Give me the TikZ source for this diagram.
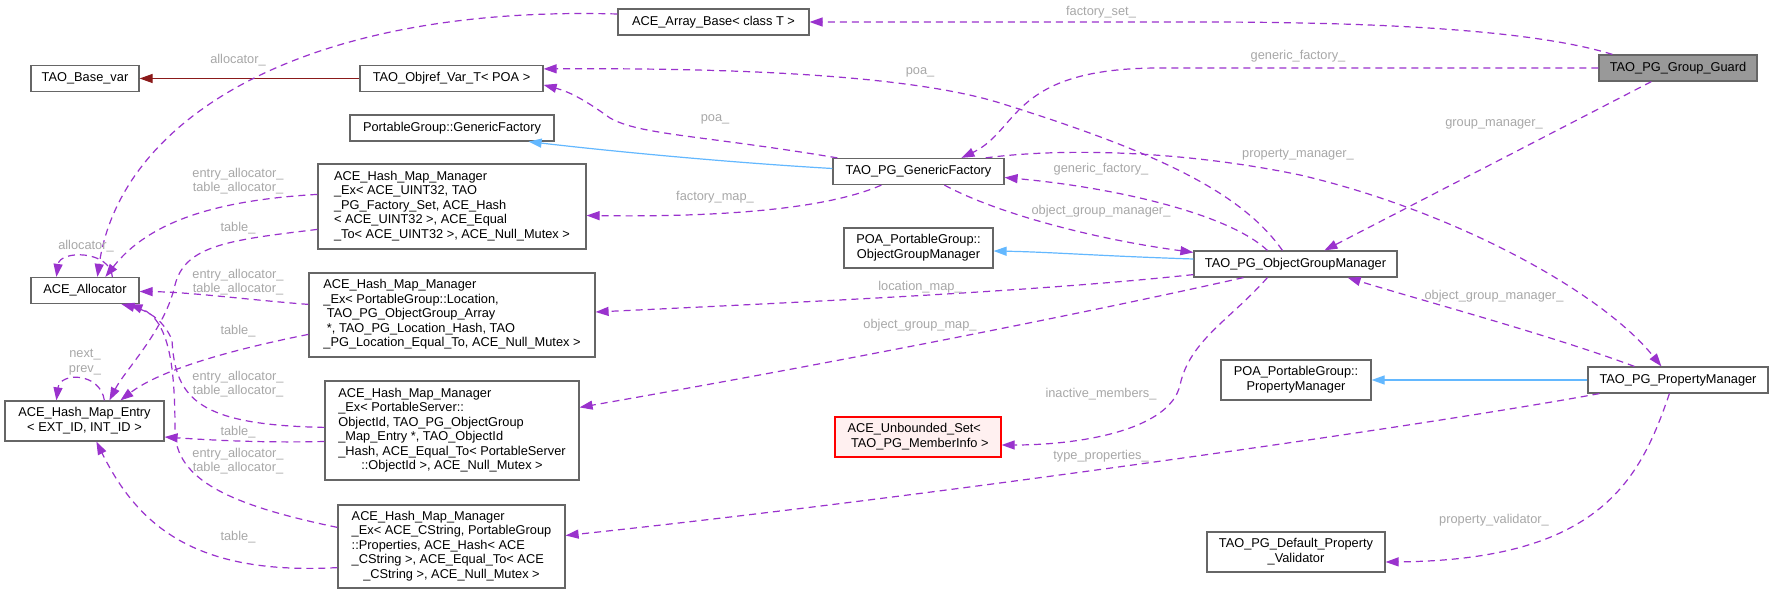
\documentclass[tikz,border=0pt]{standalone}
\usepackage{fontspec}
\setmainfont{Liberation Sans}
\usetikzlibrary{arrows.meta,calc}
\definecolor{cedge}{HTML}{9A32CD}
\definecolor{cinh}{HTML}{63B8FF}
\definecolor{cred}{HTML}{8B1A1A}
\definecolor{cborder}{HTML}{666666}
\definecolor{clbl}{HTML}{A8A8A8}
\definecolor{cgg}{HTML}{999999}
\definecolor{cunbfill}{HTML}{FFF0F0}
\newcommand{\nfont}{\fontsize{12.8bp}{14.5bp}\selectfont}
\newcommand{\mlines}[2]{\begin{tabular}{@{}l@{}}#1\\\multicolumn{1}{@{}c@{}}{#2}\end{tabular}}
\tikzset{
  cls/.style={draw=cborder, line width=1.2bp, fill=white, inner sep=0pt, font=\nfont, text=black},
  lbl/.style={text=clbl, font=\nfont, inner sep=0pt, align=center},
  mem/.style={draw=cedge, line width=1.2bp, dash pattern=on 7bp off 5bp, -{Triangle[length=13bp,width=9bp]}},
  inh/.style={draw=cinh, line width=1.2bp, -{Triangle[length=13bp,width=9bp]}},
  inhred/.style={draw=cred, line width=1.2bp, -{Triangle[length=13bp,width=9bp]}},
}
\begin{document}
\begin{tikzpicture}[x=1bp,y=-1bp]
\fill[white] (0,0) rectangle (1773,594);
\useasboundingbox (0,0) rectangle (1773,594);

% ---- nodes ----
\node[cls, fill=cgg, minimum width=158bp, minimum height=26bp] (gg) at (1678,68) {TAO\_PG\_Group\_Guard};
\node[cls, minimum width=191bp, minimum height=26bp] (arr) at (713.5,22) {ACE\_Array\_Base< class T >};
\node[cls, minimum width=108bp, minimum height=26bp] (basevar) at (85,78.5) {TAO\_Base\_var};
\node[cls, minimum width=183bp, minimum height=26bp] (objref) at (451.5,78.5) {TAO\_Objref\_Var\_T< POA >};
\node[cls, minimum width=204bp, minimum height=26bp] (pggf) at (452,128) {PortableGroup::GenericFactory};
\node[cls, minimum width=268bp, minimum height=85bp] (hmm1) at (452,206.5) {\mlines{ACE\_Hash\_Map\_Manager\\\_Ex< ACE\_UINT32, TAO\\\_PG\_Factory\_Set, ACE\_Hash\\< ACE\_UINT32 >, ACE\_Equal}{\_To< ACE\_UINT32 >, ACE\_Null\_Mutex >}};
\node[cls, minimum width=108bp, minimum height=26bp] (alloc) at (85,290.5) {ACE\_Allocator};
\node[cls, minimum width=286bp, minimum height=84bp] (hmm2) at (452,315) {\mlines{ACE\_Hash\_Map\_Manager\\\_Ex< PortableGroup::Location,\\\ TAO\_PG\_ObjectGroup\_Array\\\ *, TAO\_PG\_Location\_Hash, TAO}{\_PG\_Location\_Equal\_To, ACE\_Null\_Mutex >}};
\node[cls, minimum width=159bp, minimum height=40bp] (entry) at (84.5,421) {\mlines{ACE\_Hash\_Map\_Entry}{< EXT\_ID, INT\_ID >}};
\node[cls, minimum width=254bp, minimum height=99bp] (hmm3) at (452,430.5) {\mlines{ACE\_Hash\_Map\_Manager\\\_Ex< PortableServer::\\ObjectId, TAO\_PG\_ObjectGroup\\\_Map\_Entry *, TAO\_ObjectId\\\_Hash, ACE\_Equal\_To< PortableServer}{::ObjectId >, ACE\_Null\_Mutex >}};
\node[cls, minimum width=227bp, minimum height=83bp] (hmm4) at (451.5,546.5) {\mlines{ACE\_Hash\_Map\_Manager\\\_Ex< ACE\_CString, PortableGroup\\::Properties, ACE\_Hash< ACE\\\_CString >, ACE\_Equal\_To< ACE}{\_CString >, ACE\_Null\_Mutex >}};
\node[cls, minimum width=171bp, minimum height=26bp] (gf) at (918.5,171.5) {TAO\_PG\_GenericFactory};
\node[cls, minimum width=149bp, minimum height=40bp] (poaogm) at (918.5,248) {\mlines{POA\_PortableGroup::}{ObjectGroupManager}};
\node[cls, draw=red, fill=cunbfill, minimum width=166bp, minimum height=40bp] (unb) at (918,437) {\mlines{ACE\_Unbounded\_Set<}{\ TAO\_PG\_MemberInfo >}};
\node[cls, minimum width=203bp, minimum height=26bp] (ogm) at (1295.5,264) {TAO\_PG\_ObjectGroupManager};
\node[cls, minimum width=150bp, minimum height=40bp] (poapm) at (1296,380) {\mlines{POA\_PortableGroup::}{PropertyManager}};
\node[cls, minimum width=180bp, minimum height=26bp] (pm) at (1678,380) {TAO\_PG\_PropertyManager};
\node[cls, minimum width=178bp, minimum height=40bp] (val) at (1296,552) {\mlines{TAO\_PG\_Default\_Property}{\_Validator}};

% ---- inheritance ----
\draw[inhred] (objref.west) -- (basevar.east);
\draw[inh] ($(gf.west)+(0,-3)$) .. controls (720,162) and (600,150) .. ($(pggf.south east)+(-26,0)$);
\draw[inh] ($(ogm.west)+(0,-5)$) .. controls (1100,256) and (1050,252) .. ($(poaogm.east)+(0,3)$);
\draw[inh] (pm.west) -- (poapm.east);

% ---- members ----
\draw[mem] ($(gg.north west)+(14,0)$) .. controls (1540,32) and (1400,22) .. (1200,22) -- (arr.east);
\draw[mem] (gg.west) -- (1160,68) .. controls (1010,68) and (1020,130) .. ($(gf.north west)+(129,0)$);
\draw[mem] ($(gg.south west)+(53,0)$) -- ($(ogm.north west)+(131,0)$);
\draw[mem] ($(ogm.north west)+(89,0)$) .. controls (1240,190) and (1150,150) .. (1000,103) .. controls (900,72) and (700,68) .. ($(objref.north east)+(0,4)$);
\draw[mem] ($(gf.north west)+(5,0)$) .. controls (700,135) and (640,135) .. (610,118) .. controls (585,100) and (570,92) .. ($(objref.north east)+(0,20)$);
\draw[mem] ($(gf.south west)+(49,0)$) .. controls (820,212) and (700,217) .. ($(hmm1.east)+(0,9)$);
\draw[mem] ($(ogm.north west)+(74,0)$) .. controls (1230,215) and (1120,188) .. ($(gf.east)+(0,6)$);
\draw[mem] ($(gf.south west)+(112,0)$) .. controls (1000,215) and (1100,240) .. ($(ogm.north west)+(0,2)$);
\draw[mem] ($(gf.north east)+(-19,0)$) .. controls (1060,148) and (1180,150) .. (1300,175) .. controls (1450,210) and (1600,290) .. ($(pm.north west)+(74,0)$);
\draw[mem] ($(ogm.south west)+(0,-3)$) .. controls (1050,290) and (850,300) .. ($(hmm2.east)+(0,-3)$);
\draw[mem] ($(ogm.south west)+(50,0)$) .. controls (1100,310) and (850,360) .. ($(hmm3.north east)+(0,27)$);
\draw[mem] ($(ogm.south west)+(74,0)$) .. controls (1230,320) and (1190,340) .. (1180,385) .. controls (1170,430) and (1080,445) .. ($(unb.east)+(0,8)$);
\draw[mem] ($(pm.north west)+(47,0)$) .. controls (1550,335) and (1420,300) .. ($(ogm.south east)+(-50,0)$);
\draw[mem] ($(pm.south west)+(12,0)$) .. controls (1400,430) and (900,500) .. ($(hmm4.east)+(0,-11)$);
\draw[mem] ($(pm.south west)+(82,0)$) .. controls (1640,480) and (1600,560) .. ($(val.east)+(0,10)$);

% left side
\draw[mem] ($(arr.west)+(0,-8)$) .. controls (300,5) and (120,120) .. ($(alloc.north west)+(67,0)$);
\draw[mem] ($(alloc.north west)+(82,0)$) .. controls (110,250) and (60,250) .. ($(alloc.north west)+(26,0)$);
\draw[mem] ($(hmm1.north west)+(0,31)$) .. controls (220,200) and (150,220) .. ($(alloc.north west)+(75,0)$);
\draw[mem] ($(hmm1.north west)+(0,66)$) .. controls (230,240) and (185,245) .. (175,285) .. controls (165,330) and (125,370) .. ($(entry.north west)+(105,0)$);
\draw[mem] ($(hmm2.north west)+(0,32)$) .. controls (250,300) and (190,292) .. ($(alloc.east)+(0,1)$);
\draw[mem] ($(hmm2.north west)+(0,62)$) .. controls (230,350) and (160,370) .. ($(entry.north west)+(116,0)$);
\draw[mem] ($(hmm3.north west)+(0,47)$) .. controls (200,425) and (175,400) .. (172,340) .. controls (163,318) and (145,310) .. ($(alloc.south west)+(91,0)$);
\draw[mem] ($(hmm3.west)+(0,11)$) .. controls (260,443) and (210,440) .. ($(entry.east)+(0,16)$);
\draw[mem] ($(hmm4.north west)+(0,23)$) .. controls (230,505) and (175,480) .. (175,430) .. controls (175,370) and (170,320) .. ($(alloc.south west)+(99,0)$);
\draw[mem] ($(hmm4.south west)+(0,-21)$) .. controls (200,575) and (140,530) .. ($(entry.south west)+(92,0)$);
\draw[mem] ($(entry.north west)+(100,0)$) .. controls (100,372) and (60,372) .. ($(entry.north west)+(52,0)$);

% ---- labels ----
\node[lbl] (l1) at (238,60) {allocator\_};
\node[lbl] (l2) at (86,246) {allocator\_};
\node[lbl] (l3) at (238,181) {entry\_allocator\_\\table\_allocator\_};
\node[lbl] (l4) at (238,228) {table\_};
\node[lbl] (l5) at (238,282) {entry\_allocator\_\\table\_allocator\_};
\node[lbl] (l6) at (238,331) {table\_};
\node[lbl] (l7) at (85,362) {next\_\\prev\_};
\node[lbl] (l8) at (238,384) {entry\_allocator\_\\table\_allocator\_};
\node[lbl] (l9) at (238,432) {table\_};
\node[lbl] (l10) at (238,461) {entry\_allocator\_\\table\_allocator\_};
\node[lbl] (l11) at (238,537) {table\_};
\node[lbl] (l12) at (715,119) {poa\_};
\node[lbl] (l13) at (715,197) {factory\_map\_};
\node[lbl] (l14) at (920,72) {poa\_};
\node[lbl] (l15) at (920,287) {location\_map\_};
\node[lbl] (l16) at (920,325) {object\_group\_map\_};
\node[lbl] (l17) at (1101,12) {factory\_set\_};
\node[lbl] (l18) at (1101,169) {generic\_factory\_};
\node[lbl] (l19) at (1101,211) {object\_group\_manager\_};
\node[lbl] (l20) at (1101,394) {inactive\_members\_};
\node[lbl] (l21) at (1101,456) {type\_properties\_};
\node[lbl] (l22) at (1298,56) {generic\_factory\_};
\node[lbl] (l23) at (1298,155) {property\_manager\_};
\node[lbl] (l24) at (1494,124) {group\_manager\_};
\node[lbl] (l25) at (1494,296) {object\_group\_manager\_};
\node[lbl] (l26) at (1494,520) {property\_validator\_};
\end{tikzpicture}
\end{document}
